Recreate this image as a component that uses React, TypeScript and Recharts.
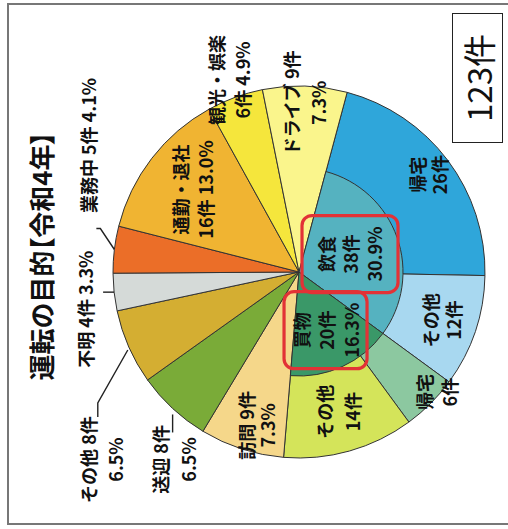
import React from 'react';
import { PieChart, Pie, Cell } from 'recharts';

// ---- data ----
const categories = ['帰宅', 'その他', '帰宅', 'その他', '訪問', '送迎', 'その他', '不明', '業務中', '通勤・退社', '観光・娯楽', 'ドライブ'];
const counts = [26, 12, 6, 14, 9, 8, 8, 4, 5, 16, 6, 9];
const innerCategories = ['飲食', '買物'];
const innerCounts = [38, 20];
const titleText = '運転の目的【令和4年】';
const unit = '件';

const labelTemplates = [
  ['{n}', '{v}件'],
  ['{n}', '{v}件'],
  ['{n}', '{v}件'],
  ['{n}', '{v}件'],
  ['{n} {v}件', '{p}'],
  ['{n} {v}件', '{p}'],
  ['{n} {v}件', '{p}'],
  ['{n} {v}件 {p}'],
  ['{n} {v}件 {p}'],
  ['{n}', '{v}件 {p}'],
  ['{n}', '{v}件 {p}'],
  ['{n} {v}件', '{p}'],
];
const innerLabelTemplates = [
  ['{n}', '{v}件', '{p}'],
  ['{n}', '{v}件', '{p}'],
];

const TOTAL = counts.reduce((a, b) => a + b, 0);
const outerData = categories.map((name, i) => ({ name, value: counts[i] }));
const innerData = [
  ...innerCategories.map((name, i) => ({ name, value: innerCounts[i] })),
  { name: '', value: TOTAL - innerCounts.reduce((a, b) => a + b, 0) },
];

// ---- styles ----
const outerColors = ['#2fa6da', '#a8d8f0', '#8cc8a0', '#d4e45a', '#f5d78a', '#7aab38', '#d4ae32', '#d5dad8', '#eb6e28', '#f0b432', '#f5e63c', '#faf58c'];
const innerColors = ['#55b2c0', '#3a9868', 'none'];
const FONT = '"Noto Sans CJK JP", "Noto Sans", sans-serif';

const OUTER_LAYOUT: any[] = [
  { r: 0.87, da: 0, gap: 22 },
  { r: 0.81, da: 0, gap: 23 },
  { r: 0.98, da: -3.8, gap: 25 },
  { r: 0.78, da: 0, gap: 28 },
  { r: 0.855, da: -2.6, gap: 21 },
  { edge: true, off: [-51, 1.5], gap: 28, leader: [[-6, 0], [-24, 0]] },
  { edge: true, off: [-112.5, -27.3], gap: 27, leader: [[-3, -1], [-56, -31], [-70, -31]] },
  { edge: true, off: [-17, -29], gap: 0, leader: [[0, 0], [0, -11]] },
  { edge: true, off: [104, -26], gap: 0, leader: [[0, 0], [21, -14], [21, -18]] },
  { r: 0.726, da: 0, gap: 25 },
  { r: 1.1, da: 0, gap: 26 },
  { r: 0.91, da: 0, gap: 27 },
];
const INNER_LAYOUT: any[] = [
  { r: 0.52, gap: 24, box: [77, 96] },
  { r: 0.615, gap: 25, box: [77, 83] },
];

const RAD = Math.PI / 180;
const fmt = (tpl: string, name: string, v: number) =>
  tpl.replace('{n}', name).replace('{v}', String(v)).replace('{p}', (v / TOTAL * 100).toFixed(1) + '%');

const TextBlock = ({ x, y, lines, gap }: any) => (
  <text textAnchor="middle" fontFamily={FONT} fontSize={18} fontWeight={600} fill="#111">
    {lines.map((l: string, i: number) => (
      <tspan key={i} x={x} y={y + (i - (lines.length - 1) / 2) * gap} dominantBaseline="central">{l}</tspan>
    ))}
  </text>
);

const OuterLabel = (props: any) => {
  const { cx, cy, midAngle, outerRadius, index } = props;
  const lay = OUTER_LAYOUT[index];
  const lines = labelTemplates[index].map((t) => fmt(t, categories[index], counts[index]));
  let lx: number, ly: number;
  let leader = null;
  if (lay.edge) {
    const ex = cx + outerRadius * Math.cos(-midAngle * RAD);
    const ey = cy + outerRadius * Math.sin(-midAngle * RAD);
    lx = ex + lay.off[0];
    ly = ey + lay.off[1];
    leader = (
      <polyline
        points={lay.leader.map(([dx, dy]: number[]) => `${ex + dx},${ey + dy}`).join(' ')}
        fill="none" stroke="#222" strokeWidth={1.4}
      />
    );
  } else {
    const a = (midAngle - lay.da) * RAD;
    const r = outerRadius * lay.r;
    lx = cx + r * Math.cos(-a);
    ly = cy + r * Math.sin(-a);
  }
  return (
    <g>
      {leader}
      <TextBlock x={lx} y={ly} lines={lines} gap={lay.gap} />
    </g>
  );
};

const InnerLabel = (props: any) => {
  const { cx, cy, midAngle, outerRadius, index } = props;
  if (index >= innerCategories.length) return null;
  const lay = INNER_LAYOUT[index];
  const lines = innerLabelTemplates[index].map((t) => fmt(t, innerCategories[index], innerCounts[index]));
  const r = outerRadius * lay.r;
  const lx = cx + r * Math.cos(-midAngle * RAD);
  const ly = cy + r * Math.sin(-midAngle * RAD);
  const [bw, bh] = lay.box;
  return (
    <g>
      <TextBlock x={lx} y={ly} lines={lines} gap={lay.gap} />
      <rect x={lx - bw / 2} y={ly - bh / 2} width={bw} height={bh} rx={10} ry={10} fill="none" stroke="#e23236" strokeWidth={3.2} />
    </g>
  );
};

export default function App() {
  return (
    <div style={{ position: 'absolute', left: 0, top: 0, width: 508, height: 529, overflow: 'hidden', background: '#fff' }}>
      <div
        style={{
          position: 'absolute', left: 0, top: 0, width: 529, height: 508,
          transform: 'translate(0px, 529px) rotate(-90deg)', transformOrigin: '0 0', background: '#fff',
        }}
      >
        <div style={{ position: 'absolute', left: 4, top: 7, width: 522, height: 530, border: '2px solid #777', boxSizing: 'border-box' }} />
        <div style={{ position: 'absolute', left: 273, top: 40, transform: 'translate(-50%, -50%)', whiteSpace: 'nowrap', fontFamily: FONT, fontSize: 26, fontWeight: 600, fontFeatureSettings: '"palt"', color: '#111' }}>
          {titleText}
        </div>
        <div style={{ position: 'absolute', left: 386, top: 452, width: 130, height: 51, border: '1.5px solid #222', boxSizing: 'border-box', display: 'flex', alignItems: 'center', justifyContent: 'center', fontFamily: FONT, fontSize: 33, color: '#111' }}>
          {`${TOTAL}${unit}`}
        </div>
        <div style={{ position: 'absolute', left: 0, top: 0 }}>
          <PieChart width={529} height={508} margin={{ top: 0, right: 0, bottom: 0, left: 0 }}>
            <Pie
              data={outerData} dataKey="value" nameKey="name"
              cx={257} cy={299} innerRadius={0} outerRadius={186}
              startAngle={-15} endAngle={-375}
              stroke="#333" strokeWidth={1}
              label={OuterLabel} labelLine={false}
              isAnimationActive={false}
            >
              {outerData.map((d, i) => <Cell key={i} fill={outerColors[i]} />)}
            </Pie>
            <Pie
              data={innerData} dataKey="value" nameKey="name"
              cx={257} cy={299} innerRadius={0} outerRadius={104}
              startAngle={-15} endAngle={-375}
              label={InnerLabel} labelLine={false}
              isAnimationActive={false}
            >
              {innerData.map((d, i) => (
                <Cell key={i} fill={innerColors[i]} stroke={innerColors[i] === 'none' ? 'none' : '#333'} strokeWidth={1} />
              ))}
            </Pie>
          </PieChart>
        </div>
      </div>
    </div>
  );
}
